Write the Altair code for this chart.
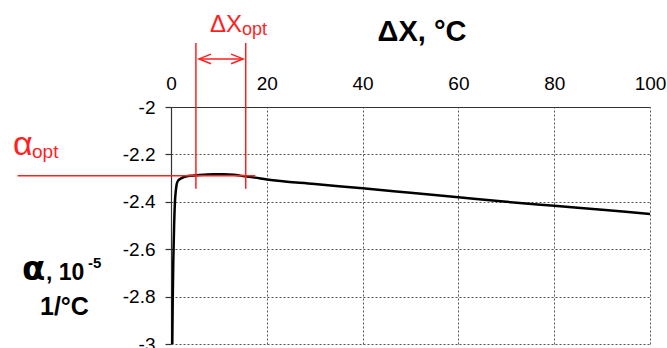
import altair as alt
import pandas as pd

# ---- data ----
curve_x = [0.27, 0.35, 0.48, 0.65, 0.84, 1.0, 1.2, 1.5, 2.2, 3.3, 4.3, 5.4, 7, 9, 11, 13,
           15, 17.5, 20, 30, 40, 50, 60, 70, 80, 90, 100]
curve_y = [-3.0, -2.83, -2.65, -2.5, -2.394, -2.355, -2.325, -2.31, -2.30, -2.292, -2.29,
           -2.288, -2.286, -2.284, -2.284, -2.286, -2.291, -2.298, -2.306, -2.325, -2.343,
           -2.362, -2.381, -2.400, -2.417, -2.434, -2.451]

x_ticks = [0, 20, 40, 60, 80, 100]
y_ticks = [-2.0, -2.2, -2.4, -2.6, -2.8, -3.0]

alpha_opt = -2.29
alpha_line_x = [-32, 17.6]
dx_opt = [5.2, 15.6]
dx_line_y = [-1.73, -2.345]
arrow_y = -1.797
arrow_x = [5.85, 15.05]

FONT = "Liberation Sans"
RED = "#ff1f1f"

xs = alt.Scale(domain=[0, 100], nice=False, zero=False)
ys = alt.Scale(domain=[-3, -2], nice=False, zero=False)

xa = alt.Axis(orient="top", values=x_ticks, title=None, ticks=False, tickSize=0,
              labelFontSize=19, labelFont=FONT, labelColor="black", labelPadding=14,
              grid=True, gridDash=[2, 2], gridColor="#555", gridWidth=1,
              domainColor="#333", domainWidth=1.2, labelFlush=False)
ya = alt.Axis(values=y_ticks, title=None, tickSize=6, tickColor="#333", tickWidth=1.2,
              labelFontSize=19, labelFont=FONT, labelColor="black", labelPadding=10,
              labelExpr="replace(format(datum.value, '.1~f'), '\u2212', '-')",
              grid=True, gridDash=[2, 2], gridColor="#555", gridWidth=1,
              domainColor="#333", domainWidth=1.2)

def X(f="x"):
    return alt.X(f, type="quantitative", scale=xs, axis=xa)

def Y(f="y"):
    return alt.Y(f, type="quantitative", scale=ys, axis=ya)

curve_df = pd.DataFrame({"x": curve_x, "y": curve_y})
curve = alt.Chart(curve_df).mark_line(color="black", strokeWidth=2.5,
                                      interpolate="monotone").encode(x=X(), y=Y())

hline_df = pd.DataFrame({"x": [alpha_line_x[0]], "x2": [alpha_line_x[1]], "y": [alpha_opt]})
hline = alt.Chart(hline_df).mark_rule(color=RED, strokeWidth=1.5).encode(
    x=X(), x2="x2", y=Y())

vline_df = pd.DataFrame({"x": dx_opt, "y": [dx_line_y[0]] * 2, "y2": [dx_line_y[1]] * 2})
vlines = alt.Chart(vline_df).mark_rule(color=RED, strokeWidth=1.5).encode(
    x=X(), y=Y(), y2="y2")

arrow_df = pd.DataFrame({"x": [arrow_x[0]], "x2": [arrow_x[1]], "y": [arrow_y]})
arrow = alt.Chart(arrow_df).mark_rule(color=RED, strokeWidth=1.5).encode(
    x=X(), x2="x2", y=Y())

head_l = alt.Chart(pd.DataFrame({"x": [arrow_x[0] + 1.25], "y": [arrow_y]})).mark_point(
    shape="M1,-0.8L-1,0L1,0.8", size=144, filled=False, color=RED, strokeWidth=1.5,
    opacity=1).encode(x=X(), y=Y())
head_r = alt.Chart(pd.DataFrame({"x": [arrow_x[1] - 1.25], "y": [arrow_y]})).mark_point(
    shape="M-1,-0.8L1,0L-1,0.8", size=144, filled=False, color=RED, strokeWidth=1.5,
    opacity=1).encode(x=X(), y=Y())

def label(text, x, y, size, color="black", weight="normal", align="left", font=FONT):
    return alt.Chart(alt.Data(values=[{}])).mark_text(
        text=text, font=font, fontSize=size, fontWeight=weight, color=color,
        align=align, baseline="alphabetic").encode(x=alt.value(x), y=alt.value(y))

texts = [
    label("\u0394X, \u00b0C", 251, -66, 29, weight="bold", align="center"),
    label("\u0394X", 39, -75, 24, color=RED),
    label("opt", 71, -72, 18, color=RED),
    label("\u03b1", -158, 48, 34, color=RED),
    label("opt", -139, 51, 19, color=RED),
    label("\u03b1", -149, 173, 34, weight="bold", font="DejaVu Sans"),
    label(", 10", -125, 173, 23, weight="bold"),
    label("-5", -83, 161, 15, weight="bold"),
    label("1/\u00b0C", -131, 208, 25, weight="bold"),
]

chart = alt.layer(curve, hline, vlines, arrow, head_l, head_r, *texts).properties(
    width=479, height=237,
    padding={"left": 171, "top": 107, "right": 17, "bottom": 4},
    autosize=alt.AutoSizeParams(type="none"),
    background="white",
).configure_view(stroke=None)

chart.save("out.html", embed_options={"renderer": "svg", "actions": False})
